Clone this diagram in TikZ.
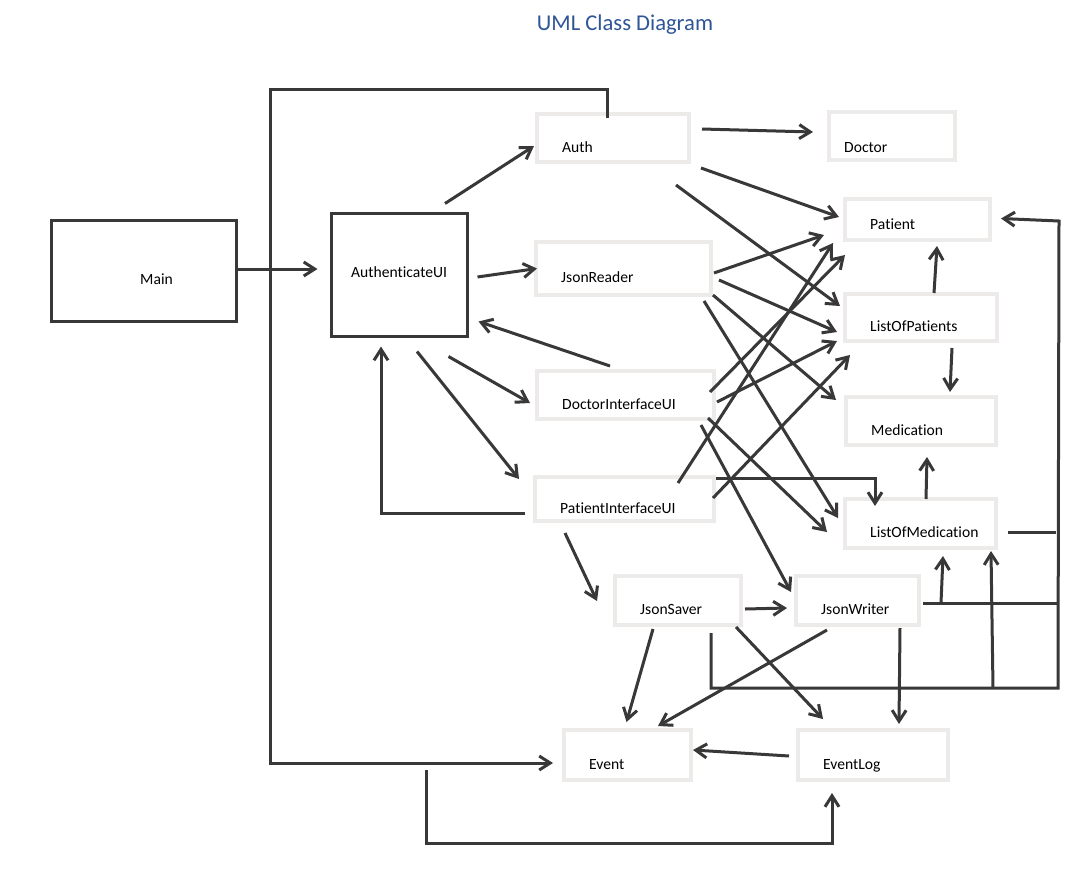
\documentclass[tikz,border=0pt]{standalone}
\usepackage{fontspec}
\setmainfont{Carlito}[Ligatures=NoCommon]
\usetikzlibrary{arrows.meta,calc}
\definecolor{ink}{HTML}{383838}
\definecolor{boxgrey}{HTML}{EDEBE9}
\definecolor{titleblue}{HTML}{2F5597}
\tikzset{
  cls/.style={draw=boxgrey, line width=3.5pt, outer sep=0pt, inner sep=0pt},
  ui/.style={draw=ink, line width=3pt, outer sep=0pt, inner sep=0pt},
  lbl/.style={anchor=base west, inner sep=0pt, xshift=25pt, yshift=-14pt, font=\fontsize{15.6}{18}\selectfont},
  wire/.style={draw=ink, line width=3pt},
  arr/.style={wire, -{Straight Barb[length=11pt,width=14pt]}},
}
\begin{document}
\begin{tikzpicture}[x=1pt,y=-1pt]
\fill[white] (0,0) rectangle (1066,868);
\useasboundingbox (0,0) rectangle (1066,868);
\node[font=\fontsize{22.6}{27}\selectfont, text=titleblue, anchor=base] (title) at (625,30) {UML Class Diagram};
% ui classes
\node[ui, minimum width=185pt, minimum height=101pt, label={[lbl,xshift=63.5pt,yshift=1pt]west:Main}] (main) at (144,271) {};
\node[ui, minimum width=136pt, minimum height=123pt, label={[lbl,xshift=-5.5pt,yshift=12pt]west:AuthenticateUI}] (authui) at (399.5,275) {};
\node[cls, minimum width=152pt, minimum height=48pt, label={[lbl]west:Auth}] (auth) at (613,138) {};
\node[cls, minimum width=175pt, minimum height=53pt, label={[lbl]west:JsonReader}] (jsonreader) at (623.5,268.5) {};
\node[cls, minimum width=177pt, minimum height=48pt, label={[lbl]west:DoctorInterfaceUI}] (docui) at (625.5,395) {};
\node[cls, minimum width=179pt, minimum height=44pt, label={[lbl]west:PatientInterfaceUI}] (patui) at (624.5,499) {};
% model classes
\node[cls, minimum width=126pt, minimum height=48pt, label={[lbl,xshift=-10pt,yshift=-2pt]west:Doctor}] (doctor) at (892,136) {};
\node[cls, minimum width=145pt, minimum height=41pt, label={[lbl,yshift=4pt]west:Patient}] (patient) at (917.5,219.5) {};
\node[cls, minimum width=152pt, minimum height=47pt, label={[lbl]west:ListOfPatients}] (listpat) at (921,317.5) {};
\node[cls, minimum width=150pt, minimum height=48pt, label={[lbl]west:Medication}] (medication) at (921,421) {};
\node[cls, minimum width=151pt, minimum height=49pt, label={[lbl]west:ListOfMedication}] (listmed) at (920.5,523.5) {};
% persistence
\node[cls, minimum width=126pt, minimum height=49pt, label={[lbl]west:JsonSaver}] (jsonsaver) at (678,600.5) {};
\node[cls, minimum width=123pt, minimum height=49pt, label={[lbl]west:JsonWriter}] (jsonwriter) at (857.5,600.5) {};
\node[cls, minimum width=127pt, minimum height=50pt, label={[lbl]west:Event}] (event) at (627.5,755) {};
\node[cls, minimum width=150pt, minimum height=50pt, label={[lbl]west:EventLog}] (eventlog) at (873,755) {};
% main and login
\draw[arr] ($(main.east)+(0,-2)$) -- ($(authui.west)+(-14,-6)$);
\coordinate (bustop) at (270,89);
\draw[arr] ($(auth.north)+(-6,4)$) |- (bustop) |- ($(event.west)+(-11,8)$);
\draw[arr] ($(authui.north)+(45.5,-10)$) -- ($(auth.west)+(-3,8)$);
\draw[arr] ($(authui.east)+(10,2)$) -- ($(jsonreader.west)+(1,0)$);
\draw[arr] ($(docui.north)+(-15.5,-5)$) -- ($(authui.south east)+(11,-15)$);
\draw[arr] ($(authui.south east)+(-19,20)$) -- ($(docui.west)+(-7,8)$);
\draw[arr] ($(authui.south)+(17.5,15)$) -- ($(patui.north west)+(-16,2)$);
\draw[arr] ($(patui.west)+(-10,14)$) -| ($(authui.south)+(-18.5,10)$);
% auth
\draw[arr] ($(auth.east)+(13,-9)$) -- ($(doctor.west)+(-16,-4)$);
\draw[arr] ($(auth.south east)+(12,6)$) -- ($(patient.west)+(-6,-2.5)$);
\draw[arr] ($(auth.south east)+(-13,23)$) -- ($(listpat.west)+(-5,-11.5)$);
% json reader
\draw[arr] ($(jsonreader.east)+(3,4.5)$) -- ($(patient.south west)+(-21,-5)$);
\draw[arr] ($(jsonreader.east)+(8,11.5)$) -- ($(listpat.west)+(-8,14.5)$);
\draw[arr] ($(jsonreader.south east)+(2,0)$) -- ($(medication.north west)+(-10,3)$);
\draw[arr] ($(jsonreader.south east)+(-7,6)$) -- ($(listmed.west)+(-7,-5.5)$);
% doctor ui
\draw[arr] ($(docui.east)+(-4,-3)$) -- ($(patient.south west)+(0,15)$);
\draw[arr] ($(docui.east)+(3,7)$) -- ($(listpat.south west)+(-8,0)$);
\draw[arr] ($(docui.south east)+(-6,-1)$) -- ($(listmed.west)+(-18,8.5)$);
\draw[arr] ($(docui.south east)+(-13,6)$) -- ($(jsonwriter.north west)+(-5,16)$);
% patient ui
\draw[arr] ($(patui.north)+(53.5,6)$) -- ($(patient.south west)+(-12,3)$);
\draw[arr] ($(patui.east)+(-1,-1)$) -- ($(listpat.south west)+(5,14)$);
\draw[arr] ($(patui.east)+(2,-21)$) -| ($(listmed.north)+(-45.5,7)$);
\draw[arr] ($(patui.south)+(-59.5,12)$) -- ($(jsonsaver.west)+(-18,0.5)$);
% model
\draw[arr] ($(listpat.north)+(13,-1)$) -- ($(patient.south)+(19.5,6)$);
\draw[arr] ($(listpat.south)+(31,7)$) -- ($(medication.north)+(29,-5)$);
\draw[arr] ($(listmed.north)+(5.5,0)$) -- ($(medication.south)+(6,12)$);
% right bus
\coordinate (busbot) at (1058,688);
\coordinate (busright) at (1059,221);
\draw[arr] ($(jsonsaver.south)+(33,8)$) |- (busbot) -- (busright) -- ($(patient.east)+(11,-1)$);
\draw[wire] ($(listmed.east)+(12,8.5)$) -- ++(48,0);
\draw[wire] ($(jsonwriter.east)+(4,2.5)$) -- ++(134,0);
\draw[arr] ($(jsonwriter.east)+(22,2.5)$) -- ($(listmed.south)+(22.5,8)$);
\draw[arr] ($(busbot)+(-65,0)$) -- ($(listmed.south east)+(-5,3)$);
% saving and logging
\draw[arr] ($(jsonsaver.east)+(4,8.5)$) -- ($(jsonwriter.west)+(-9,7.5)$);
\draw[arr] ($(jsonsaver.south)+(-25,4)$) -- ($(event.north)+(-1,-8)$);
\draw[arr] ($(jsonsaver.south east)+(-5,2)$) -- ($(eventlog.north west)+(25,-11)$);
\draw[arr] ($(jsonwriter.south)+(-30.5,5)$) -- ($(event.north)+(30.5,-4)$);
\draw[arr] ($(jsonwriter.south)+(42.5,3)$) -- ($(eventlog.north)+(26,-6)$);
\draw[arr] ($(eventlog.west)+(-9,1)$) -- ($(event.east)+(2,-5)$);
\coordinate (logstart) at (426,770);
\draw[arr] (logstart) -- ++(0,73) -| ($(eventlog.south)+(-41,13)$);
\end{tikzpicture}
\end{document}
